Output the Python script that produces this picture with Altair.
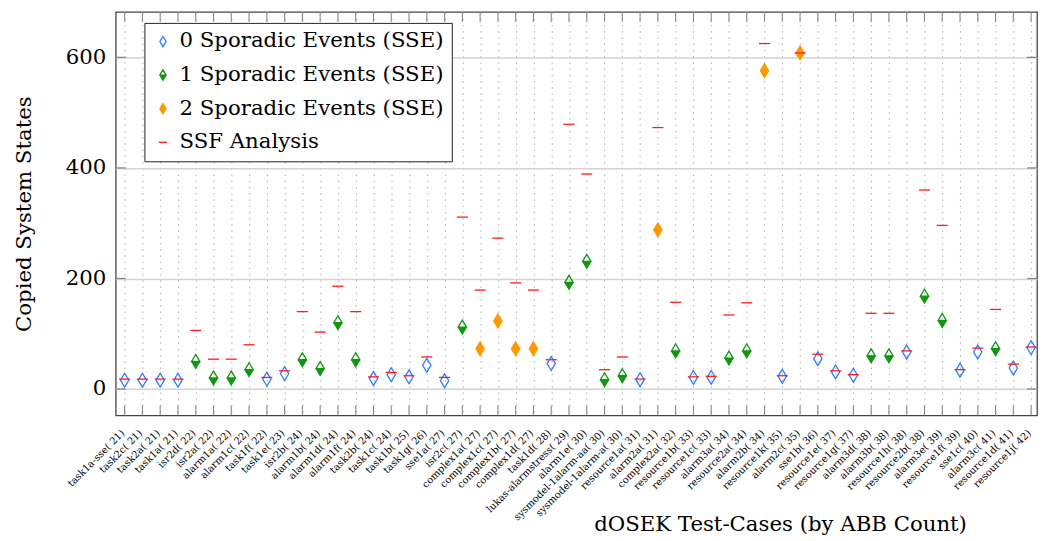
import altair as alt
import pandas as pd

names = [
    "task1a-sse( 21)", "task2c( 21)", "task2a( 21)", "task1a( 21)", "isr2d( 22)",
    "isr2a( 22)", "alarm1a( 22)", "alarm1c( 22)", "task1f( 22)", "task1e( 23)",
    "isr2b( 24)", "alarm1b( 24)", "alarm1d( 24)", "alarm1f( 24)", "task2b( 24)",
    "task1c( 24)", "task1b( 25)", "task1g( 26)", "sse1a( 27)", "isr2c( 27)",
    "complex1a( 27)", "complex1c( 27)", "complex1b( 27)", "complex1d( 27)", "task1d( 28)",
    "lukas-alarmstress( 29)", "alarm1e( 30)", "sysmodel-1alarm-aa( 30)", "sysmodel-1alarm-a( 30)", "resource1a( 31)",
    "alarm2a( 31)", "complex2a( 32)", "resource1b( 33)", "resource1c( 33)", "alarm3a( 34)",
    "resource2a( 34)", "alarm2b( 34)", "resource1k( 35)", "alarm2c( 35)", "sse1b( 36)",
    "resource1e( 37)", "resource1g( 37)", "alarm3d( 38)", "alarm3b( 38)", "resource1h( 38)",
    "resource2b( 38)", "alarm3e( 39)", "resource1f( 39)", "sse1c( 40)", "alarm3c( 41)",
    "resource1d( 41)", "resource1j( 42)",
]

# number of sporadic events of each test case
sse_counts = [
    0, 0, 0, 0, 1, 1, 1, 1, 0, 0,
    1, 1, 1, 1, 0, 0, 0, 0, 0, 1,
    2, 2, 2, 2, 0, 1, 1, 1, 1, 0,
    2, 1, 0, 0, 1, 1, 2, 0, 2, 0,
    0, 0, 1, 1, 0, 1, 1, 0, 0, 1,
    0, 0,
]

copied_states = [
    16, 16, 16, 16, 50, 20, 20, 35, 18, 28,
    53, 37, 120, 53, 19, 26, 22, 43, 15, 112,
    73, 123, 73, 73, 46, 193, 231, 17, 24, 17,
    288, 69, 21, 21, 56, 69, 576, 23, 608, 55,
    31, 25, 60, 60, 67, 168, 124, 34, 67, 73,
    38, 75,
]

ssf_states = [
    18, 18, 18, 18, 106, 54, 54, 80, 21, 33,
    140, 103, 186, 140, 22, 30, 24, 58, 21, 311,
    179, 273, 192, 179, 53, 479, 389, 35, 58, 18,
    473, 157, 22, 23, 134, 156, 625, 24, 608, 63,
    33, 26, 137, 137, 69, 360, 296, 35, 74, 144,
    45, 76,
]

series_labels = [
    "0 Sporadic Events (SSE)",
    "1 Sporadic Events (SSE)",
    "2 Sporadic Events (SSE)",
    "SSF Analysis",
]
y_ticks = [0, 200, 400, 600]

rows = []
for n, c, v in zip(names, sse_counts, copied_states):
    rows.append({"name": n, "value": v, "series": series_labels[c], "order": c})
for n, v in zip(names, ssf_states):
    rows.append({"name": n, "value": v, "series": series_labels[3], "order": 3})
df = pd.DataFrame(rows).sort_values("order", kind="stable").reset_index(drop=True)

W, H = 932, 408

DIAMOND = "M0,-1L0.6,0L0,1L-0.6,0Z"
HALF = "M0,-1L0.6,0L0,1L-0.6,0Z M0,-1L-0.6,0L0.6,0Z"
DASH = "M-0.8,0L0.8,0"

BLUE = "#2f7cff"
GREEN = "#129612"
ORANGE = "#ff9900"
RED = "#ff1a1a"

x_enc = alt.X("name:N", sort=names, title="dOSEK Test-Cases (by ABB Count)",
              scale=alt.Scale(type="point", padding=0.417, align=0.6))
y_enc = alt.Y("value:Q", title="Copied System States",
              axis=alt.Axis(values=y_ticks),
              scale=alt.Scale(domain=[-47.6, 682], nice=False, zero=False))

points = alt.Chart(df).mark_point(size=196, opacity=1).encode(
    x=x_enc,
    y=y_enc,
    shape=alt.Shape("series:N", title=None,
                    scale=alt.Scale(domain=series_labels, range=[DIAMOND, HALF, DIAMOND, DASH])),
    stroke=alt.Stroke("series:N", title=None,
                      scale=alt.Scale(domain=series_labels, range=[BLUE, GREEN, ORANGE, RED])),
    fill=alt.Fill("series:N", title=None,
                  scale=alt.Scale(domain=series_labels, range=["transparent", GREEN, ORANGE, "transparent"])),
    strokeWidth=alt.StrokeWidth("series:N", title=None,
                                scale=alt.Scale(domain=series_labels, range=[1.3, 1.3, 1.3, 2.0])),
)

tick_x_df = pd.DataFrame({"name": names})
tick_y_df = pd.DataFrame({"value": y_ticks})

xt_bottom = alt.Chart(tick_x_df).mark_rule(color="#888888", strokeWidth=1.1).encode(
    x=x_enc, y=alt.value(H - 10), y2=alt.value(H))
xt_top = alt.Chart(tick_x_df).mark_rule(color="#888888", strokeWidth=1.1).encode(
    x=x_enc, y=alt.value(0), y2=alt.value(10))
yt_left = alt.Chart(tick_y_df).mark_rule(color="#888888", strokeWidth=1.3).encode(
    y=y_enc, x=alt.value(0), x2=alt.value(10))
yt_right = alt.Chart(tick_y_df).mark_rule(color="#888888", strokeWidth=1.3).encode(
    y=y_enc, x=alt.value(W - 10), x2=alt.value(W))

chart = alt.layer(xt_bottom, xt_top, yt_left, yt_right, points).properties(
    width=W, height=H, padding={"left": 5, "top": 0, "right": 0, "bottom": 0}
).configure(font="DejaVu Serif").configure_view(
    stroke="#444444", strokeWidth=1.3
).configure_axisX(
    labelAngle=-45, labelFontSize=10, labelColor="black", labelAlign="right",
    labelBaseline="middle", labelPadding=16, labelOffset=-2, labelOverlap=False,
    labelBound=False, domain=False, ticks=False, grid=True, gridDash=[1.5, 4.8],
    gridColor="#b0b0b0", gridWidth=1, titleFontSize=21.5, titleFontWeight="normal",
    titleColor="black", titleX=672, titleY=116, titleAlign="center", titleBaseline="alphabetic",
).configure_axisY(
    labelFontSize=21.5, labelColor="black", labelPadding=10,
    ticks=False, domain=False, grid=True, gridColor="#d3d3d3", gridWidth=1.5,
    titleFontSize=21.5, titleFontWeight="normal", titleColor="black", titlePadding=30,
).configure_legend(
    orient="none", legendX=29, legendY=11, title=None,
    strokeColor="#222222", strokeWidth=1, fillColor="white", padding=8,
    labelFontSize=21.5, labelColor="black", labelOffset=6, rowPadding=11, labelLimit=0,
    symbolSize=110, cornerRadius=0,
)

chart.save("out.html", embed_options={"renderer": "svg", "actions": False})
